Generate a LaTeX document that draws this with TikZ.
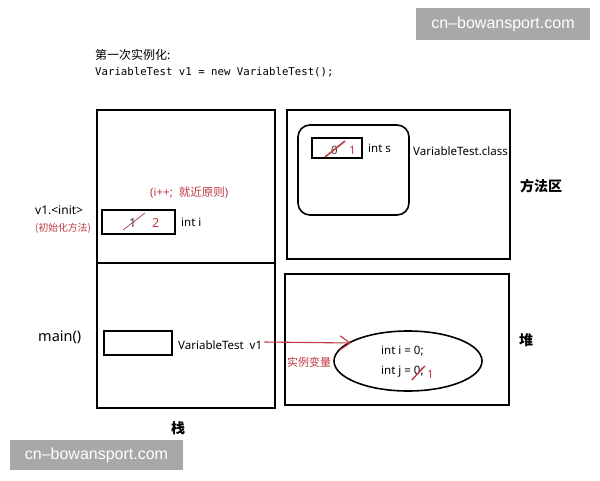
\documentclass[tikz,border=0pt]{standalone}
\usepackage{fontspec}
\setmainfont{Noto Sans}
\newfontfamily\cjk{Noto Sans CJK SC}
\newfontfamily\codefont{DejaVu Sans Mono}
\newfontfamily\markfont{Liberation Sans}
\usetikzlibrary{arrows.meta, shapes.geometric}

\definecolor{notered}{RGB}{190,55,65}
\definecolor{markgray}{RGB}{168,168,168}
\definecolor{inkgray}{RGB}{60,60,60}

\begin{document}
\begin{tikzpicture}[x=1pt, y=-1pt,
  area/.style={draw, line width=2.6pt},
  slot/.style={draw, line width=1.6pt, inner sep=0pt},
  txt/.style={anchor=west, inner sep=0pt, font=\fontsize{11.5}{13}\selectfont},
  note/.style={txt, text=notered},
  region/.style={inner sep=0pt, font=\cjk\bfseries\fontsize{14}{16}\selectfont},
  strike/.style={notered, line width=1.4pt},
  watermark/.style={fill=markgray, text=white, inner sep=0pt, font=\markfont\fontsize{16}{18}\selectfont}]

\useasboundingbox (0,0) rectangle (600,480);

% Heading
\node[txt, font=\cjk\fontsize{12}{14}\selectfont] (title) at (95,55) {第一次实例化:};
\node[txt, font=\codefont\fontsize{10.7}{13}\selectfont] (code) at (95,72) {VariableTest v1 = new VariableTest();};

% Memory areas
\draw[area] (97,110) rectangle (275,408);
\draw[area] (97,263) -- (275,263);
\draw[area] (287,110) rectangle (510,259);
\draw[area] (285,274) rectangle (509,405);

\node[region] (stacklabel) at (178,428) {栈};
\node[region, anchor=west] (methodlabel) at (520,186) {方法区};
\node[region] (heaplabel) at (526,340) {堆};

% Method area: class data
\draw[line width=1.6pt, rounded corners=12pt] (298,125) rectangle (409,215);
\node[slot, minimum width=50pt, minimum height=20pt] (sbox) at (337,148) {};
\node[txt, text=inkgray] (sold) at (331,150) {0};
\node[txt, text=notered] (snew) at (349,150) {1};
\draw[strike, line width=1.6pt] (325,157) -- (345,141);
\node[txt] (sname) at (368,148) {int s};
\node[txt] (classname) at (413,151) {VariableTest.class};

% Stack frame of v1.<init>
\node[note, font=\fontsize{11.5}{13}\selectfont] (rule) at (150,193) {(i++;\ \ {\cjk 就近原则})};
\node[txt, font=\fontsize{12}{14}\selectfont] (init) at (35,210) {v1.<init>};
\node[note, font=\cjk\fontsize{9.8}{11}\selectfont] (initnote) at (35,228) {(初始化方法)};
\node[slot, minimum width=73pt, minimum height=24pt] (ibox) at (138.5,222) {};
\node[txt, text=inkgray, font=\fontsize{12.5}{14}\selectfont] (iold) at (129,223) {1};
\node[txt, text=notered, font=\fontsize{12.5}{14}\selectfont] (inew) at (152,223) {2};
\draw[notered!70!gray, line width=0.8pt] (123,230) -- (145,213);
\node[txt] (iname) at (181,222) {int i};

% Stack frame of main()
\node[txt, font=\fontsize{14.5}{16}\selectfont] (main) at (38,337) {main()};
\node[slot, minimum width=68pt, minimum height=24pt] (vbox) at (138,343) {};
\node[txt] (vname) at (178,345) {VariableTest\ \ v1};

% Heap object
\node[draw, line width=1.6pt, ellipse, minimum width=148pt, minimum height=60pt] (obj) at (408,361) {};
\node[txt] (fieldi) at (381,351) {int i = 0;};
\node[txt] (fieldj) at (381,372) {int j = 0;};
\draw[strike] (fieldj.east) ++(-12,8) -- ++(13,-14);
\node[txt, text=notered, anchor=west] (jnew) at ([xshift=3pt, yshift=-2pt]fieldj.east) {1};
\node[note, font=\cjk\fontsize{11}{13}\selectfont] (instvar) at (287,362) {实例变量};

% Reference arrow
\coordinate (vtail) at ([xshift=2pt, yshift=3pt]vname.east);
\coordinate (vhead) at (351,343);
\draw[notered, line width=1.1pt, -{Straight Barb[length=10pt, width=14pt]}] (vtail) -- (vhead);

% Watermarks
\node[watermark, minimum width=174pt, minimum height=32pt] (markone) at (503,24) {cn–bowansport.com};
\node[watermark, minimum width=173pt, minimum height=30pt] (marktwo) at (96.5,455) {cn–bowansport.com};

\end{tikzpicture}
\end{document}
